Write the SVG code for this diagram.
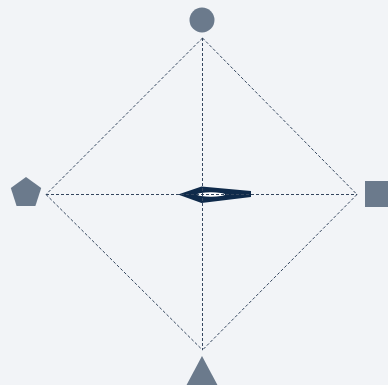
<svg xmlns="http://www.w3.org/2000/svg" width="388" height="385" viewBox="0 0 388 385">
<style>
.node{fill:#6b7a8c}
.edge{stroke:#34465e;stroke-width:1;stroke-dasharray:3 2;fill:none}
</style>
<rect width="388" height="385" fill="#f2f4f7"/>
<g id="needle">
<polygon points="178,194.5 201.5,186.5 251,191 251,197 201.5,203" fill="#0f2a4a"/>
<ellipse cx="211" cy="194.5" rx="14" ry="2.2" fill="#ffffff"/>
</g>
<g id="connectors">
<line class="edge" x1="202.5" y1="38" x2="46" y2="194.5"/>
<line class="edge" x1="202.5" y1="38" x2="357" y2="194.5"/>
<line class="edge" x1="46" y1="194.5" x2="202.5" y2="350"/>
<line class="edge" x1="357" y1="194.5" x2="202.5" y2="350"/>
<line class="edge" x1="46" y1="194.5" x2="357" y2="194.5"/>
<line class="edge" x1="202.5" y1="38" x2="202.5" y2="350"/>
</g>
<g id="node-top"><circle class="node" cx="202" cy="20" r="12.5"/></g>
<g id="node-left"><polygon class="node" points="26,177 41.2,188 35.4,206 16.6,206 10.8,188"/></g>
<g id="node-right"><rect class="node" x="365" y="181" width="26" height="26"/></g>
<g id="node-bottom"><polygon class="node" points="202,356 218,386 186,386"/></g>
</svg>
